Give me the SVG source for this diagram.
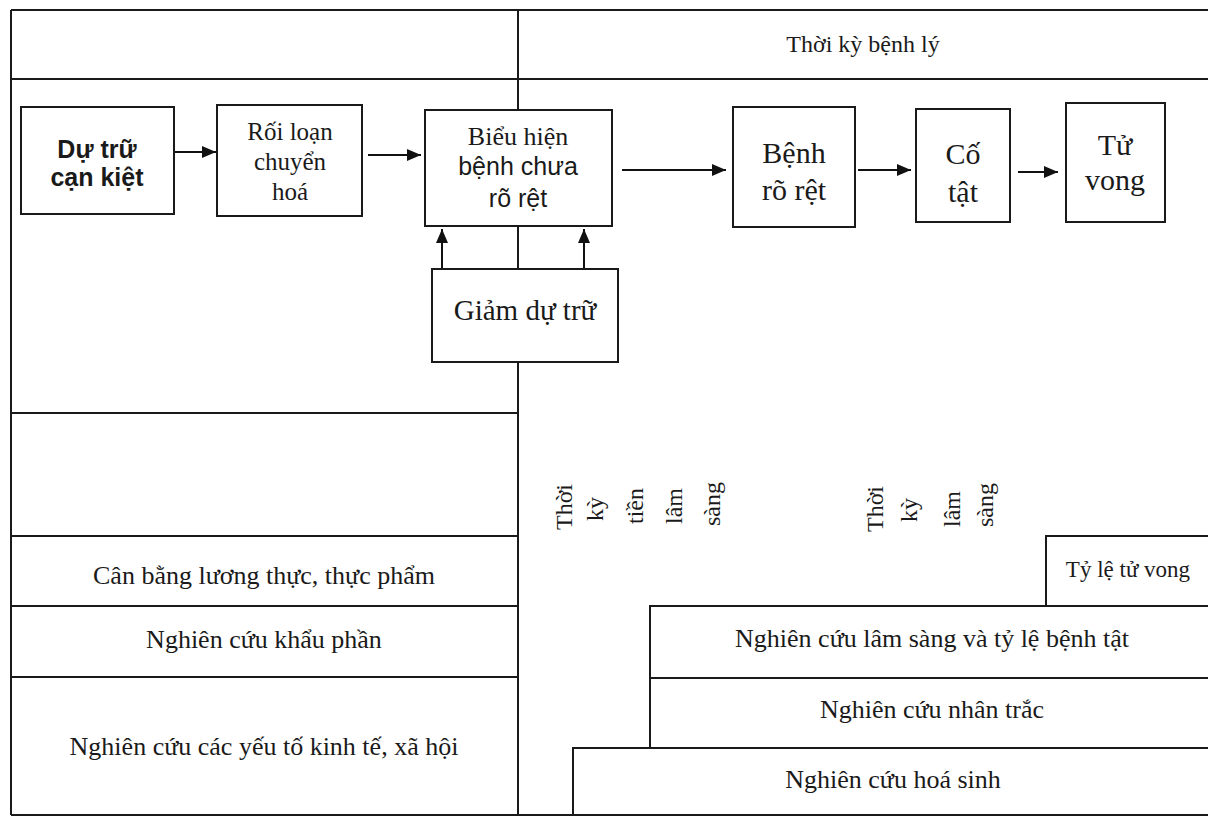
<svg xmlns="http://www.w3.org/2000/svg" width="1208" height="817" viewBox="0 0 1208 817">
<style>
.ln{stroke:#1a1a1a;stroke-width:2;fill:none}
.bx{stroke:#1a1a1a;stroke-width:2;fill:#fff}
.ar{stroke:#111;stroke-width:2;fill:none;marker-end:url(#ah)}
.s{font-family:"Liberation Serif","Times New Roman",serif;fill:#1a1a1a;text-anchor:middle}
.a{font-family:"Liberation Sans",Arial,sans-serif;fill:#1a1a1a;text-anchor:middle}
.b{font-weight:bold}
</style>
<defs>
<marker id="ah" markerUnits="userSpaceOnUse" markerWidth="16" markerHeight="14" refX="14" refY="6" orient="auto">
<path d="M0,0 L14,6 L0,12 Z" fill="#111"/>
</marker>
</defs>
<rect width="1208" height="817" fill="#fff"/>
<g id="frame">
<path class="ln" d="M11,10 H1208 M11,79 H1208 M11,815 H1208 M11,10 V815 M518,10 V815"/>
<path class="ln" d="M11,413 H518 M11,536 H518 M11,606 H518 M11,677 H518"/>
<path class="ln" d="M1046,606 V536 H1208 M650,748 V606 H1208 M650,678 H1208 M573,815 V748 H1208"/>
</g>
<g id="header"><text class="s" x="863" y="52" font-size="24">Thời kỳ bệnh lý</text></g>
<g id="connectors">
<line class="ar" x1="174" y1="152" x2="216" y2="152"/>
<line class="ar" x1="368" y1="155" x2="421" y2="155"/>
<line class="ar" x1="622" y1="170" x2="726" y2="170"/>
<line class="ar" x1="858" y1="170" x2="911" y2="170"/>
<line class="ar" x1="1018" y1="172" x2="1058" y2="172"/>
<line class="ar" x1="442" y1="268" x2="442" y2="229"/>
<line class="ar" x1="584" y1="268" x2="584" y2="229"/>
</g>
<g id="du-tru-can-kiet">
<rect class="bx" x="21" y="107" width="153" height="107"/>
<text class="a b" x="97" y="158" font-size="25">Dự trữ</text>
<text class="a b" x="97" y="186" font-size="25">cạn kiệt</text>
</g>
<g id="roi-loan">
<rect class="bx" x="217" y="105" width="145" height="111"/>
<text class="s" x="290" y="140" font-size="25">Rối loạn</text>
<text class="s" x="290" y="170" font-size="25">chuyển</text>
<text class="s" x="290" y="200" font-size="25">hoá</text>
</g>
<g id="bieu-hien">
<rect class="bx" x="425" y="110" width="187" height="116"/>
<text class="s" x="518" y="145" font-size="26">Biểu hiện</text>
<text class="a" x="518" y="175" font-size="25">bệnh chưa</text>
<text class="a" x="518" y="207" font-size="25">rõ rệt</text>
</g>
<g id="giam-du-tru">
<rect class="bx" x="432" y="269" width="186" height="93"/>
<text class="s" x="525" y="320" font-size="29">Giảm dự trữ</text>
</g>
<g id="benh-ro-ret">
<rect class="bx" x="733" y="107" width="122" height="120"/>
<text class="s" x="794" y="163" font-size="30">Bệnh</text>
<text class="s" x="794" y="200" font-size="30">rõ rệt</text>
</g>
<g id="co-tat">
<rect class="bx" x="916" y="109" width="94" height="113"/>
<text class="s" x="963" y="164" font-size="30">Cố</text>
<text class="s" x="963" y="202" font-size="30">tật</text>
</g>
<g id="tu-vong">
<rect class="bx" x="1066" y="103" width="99" height="119"/>
<text class="s" x="1115" y="155" font-size="30">Tử</text>
<text class="s" x="1115" y="190" font-size="30">vong</text>
</g>
<g id="tien-lam-sang">
<text class="s" font-size="24" transform="translate(572,507) rotate(-90)">Thời</text>
<text class="s" font-size="24" transform="translate(603,509) rotate(-90)">kỳ</text>
<text class="s" font-size="24" transform="translate(643,506) rotate(-90)">tiền</text>
<text class="s" font-size="24" transform="translate(682,506) rotate(-90)">lâm</text>
<text class="s" font-size="24" transform="translate(720,504) rotate(-90)">sàng</text>
</g>
<g id="lam-sang">
<text class="s" font-size="24" transform="translate(883,509) rotate(-90)">Thời</text>
<text class="s" font-size="24" transform="translate(917,510) rotate(-90)">kỳ</text>
<text class="s" font-size="24" transform="translate(960,509) rotate(-90)">lâm</text>
<text class="s" font-size="24" transform="translate(993,505) rotate(-90)">sàng</text>
</g>
<g id="can-bang"><text class="s" x="264" y="584" font-size="26">Cân bằng lương thực, thực phẩm</text></g>
<g id="khau-phan"><text class="s" x="264" y="648" font-size="26">Nghiên cứu khẩu phần</text></g>
<g id="kinh-te-xa-hoi"><text class="s" x="264" y="755" font-size="26">Nghiên cứu các yếu tố kinh tế, xã hội</text></g>
<g id="ty-le-tu-vong"><text class="s" x="1128" y="577" font-size="23">Tỷ lệ tử vong</text></g>
<g id="lam-sang-benh-tat"><text class="s" x="932" y="647" font-size="26">Nghiên cứu lâm sàng và tỷ lệ bệnh tật</text></g>
<g id="nhan-trac"><text class="s" x="932" y="718" font-size="26">Nghiên cứu nhân trắc</text></g>
<g id="hoa-sinh"><text class="s" x="893" y="788" font-size="26">Nghiên cứu hoá sinh</text></g>
</svg>
